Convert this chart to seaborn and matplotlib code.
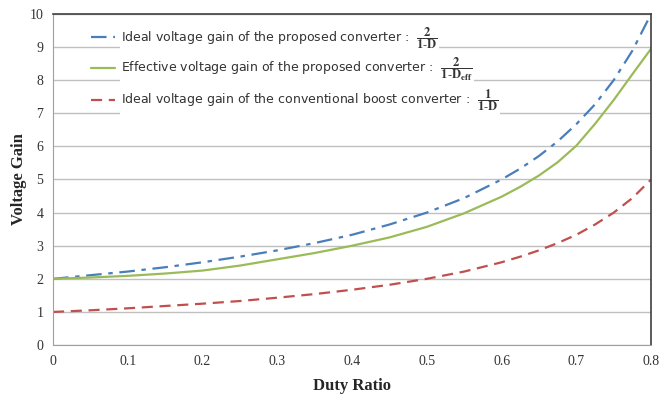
import matplotlib
matplotlib.use("Agg")
import matplotlib.pyplot as plt
import pandas as pd
import seaborn as sns

# duty ratio samples and values
duty = [0.0, 0.05, 0.1, 0.15, 0.2, 0.25, 0.3, 0.35, 0.4, 0.45, 0.5, 0.55, 0.6,
        0.625, 0.65, 0.675, 0.7, 0.725, 0.75, 0.775, 0.8]
ideal_proposed = [2.0, 2.11, 2.22, 2.35, 2.5, 2.67, 2.86, 3.08, 3.33, 3.64, 4.0,
                  4.44, 5.0, 5.33, 5.71, 6.15, 6.67, 7.27, 8.0, 8.89, 10.0]
effective_proposed = [2.0, 2.04, 2.09, 2.16, 2.25, 2.4, 2.59, 2.78, 3.0, 3.25, 3.57,
                      3.98, 4.48, 4.78, 5.12, 5.52, 6.02, 6.68, 7.4, 8.18, 8.95]
ideal_boost = [1.0, 1.05, 1.11, 1.18, 1.25, 1.33, 1.43, 1.54, 1.67, 1.82, 2.0,
               2.22, 2.5, 2.67, 2.86, 3.08, 3.33, 3.64, 4.0, 4.44, 5.0]

labels = [
    r"Ideal voltage gain of the proposed converter :  $\mathbf{\dfrac{2}{1\text{-}D}}$",
    r"Effective voltage gain of the proposed converter :  $\mathbf{\dfrac{2}{1\text{-}D_{eff}}}$",
    r"Ideal voltage gain of the conventional boost converter :  $\mathbf{\dfrac{1}{1\text{-}D}}$",
]
colors = ["#4a7ebb", "#9bbb59", "#c0504d"]
dashes = [(7, 3, 2, 3), "", (5, 3)]

df = pd.concat([
    pd.DataFrame({"D": duty, "gain": ideal_proposed, "series": labels[0]}),
    pd.DataFrame({"D": duty, "gain": effective_proposed, "series": labels[1]}),
    pd.DataFrame({"D": duty, "gain": ideal_boost, "series": labels[2]}),
])

sns.set_style("white")
plt.rcParams["mathtext.fontset"] = "stix"
fig = plt.figure(figsize=(6.59, 3.98), dpi=100)
ax = fig.add_axes([0.0804, 0.133, 0.9076, 0.832])

sns.lineplot(data=df, x="D", y="gain", hue="series", style="series",
             hue_order=labels, style_order=labels, palette=colors,
             dashes=dashes, linewidth=1.6, ax=ax, legend=True)

ax.set_xlim(0, 0.8)
ax.set_ylim(0, 10)
ax.set_xticks([i / 10 for i in range(9)])
ax.set_xticklabels(["0"] + [f"{i / 10:.1f}" for i in range(1, 9)])
ax.set_yticks(range(11))
ax.grid(axis="y", color="#c0c0c0", linewidth=1.0)
ax.set_axisbelow(True)

for side in ["left", "bottom"]:
    ax.spines[side].set_color("#a0a0a0")
for side in ["top", "right"]:
    ax.spines[side].set_color("#404040")
    ax.spines[side].set_linewidth(1.2)
ax.tick_params(axis="both", direction="out", length=4, color="#a0a0a0",
               labelsize=10, pad=3)
for t in ax.get_xticklabels() + ax.get_yticklabels():
    t.set_family("Liberation Serif")
    t.set_color("#333333")

ax.set_xlabel("Duty Ratio", family="Liberation Serif", fontweight="bold",
              fontsize=12, labelpad=7)
ax.set_ylabel("Voltage Gain", family="Liberation Serif", fontweight="bold",
              fontsize=12, labelpad=2)

leg = ax.legend(loc="upper left", bbox_to_anchor=(0.045, 1.0), frameon=False,
                fontsize=9, handlelength=1.9, handletextpad=0.5, labelspacing=0.35)
for t in leg.get_texts():
    t.set_color("#333333")
    t.set_bbox(dict(facecolor="white", edgecolor="none", pad=1))

fig.savefig("out.png", dpi=100)
